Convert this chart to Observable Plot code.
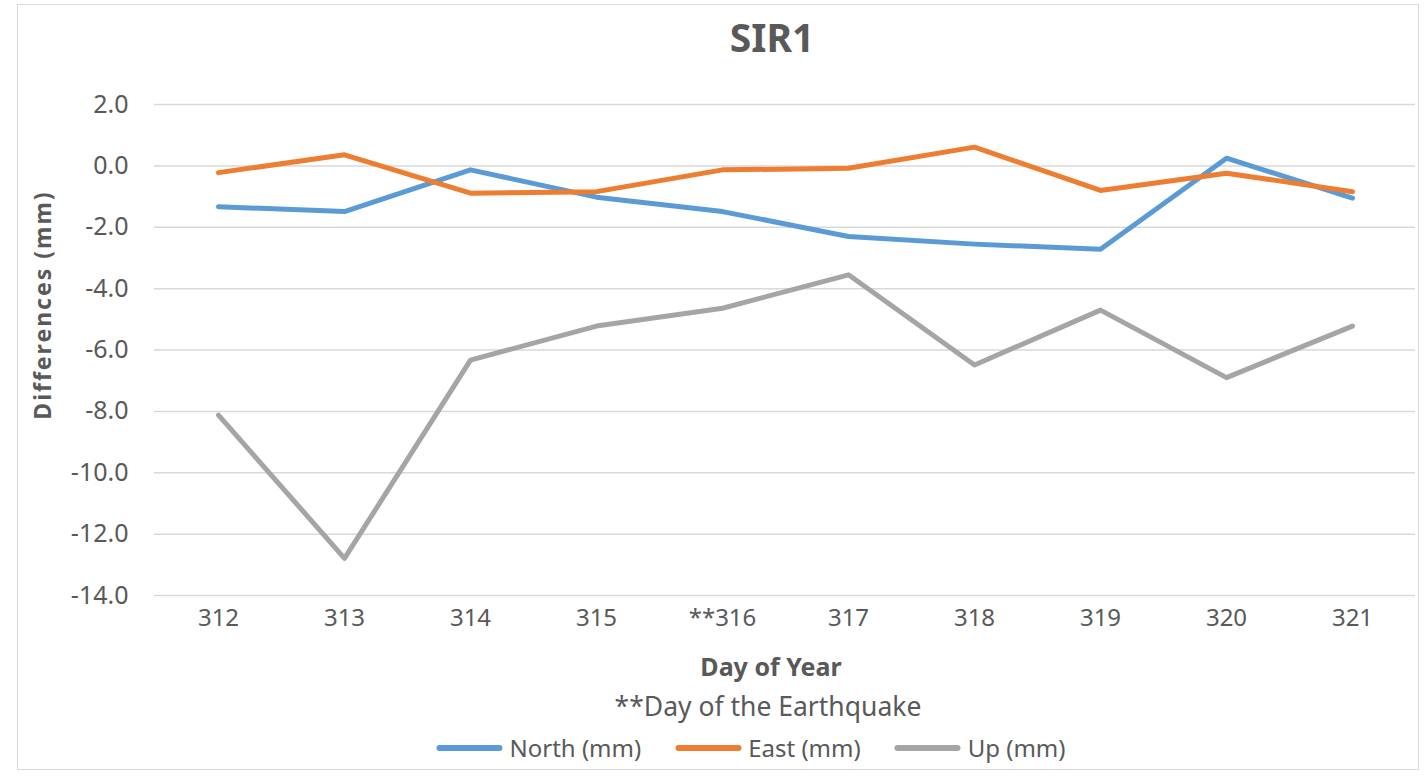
<!DOCTYPE html>
<html>
<head>
<meta charset="utf-8">
<script src="https://cdn.jsdelivr.net/npm/d3@7"></script>
<script src="https://cdn.jsdelivr.net/npm/@observablehq/plot@0.6"></script>
<style>
  body { margin: 0; background: #fff; font-family: "Noto Sans", sans-serif; }
  #wrap { position: relative; width: 1425px; height: 777px; overflow: hidden; }
  #frame { position: absolute; left: 17px; top: 4px; width: 1402px; height: 766px; border: 1.5px solid #d9d9d9; box-sizing: border-box; }
  #chart { position: absolute; left: 0; top: 0; }
  .t { position: absolute; transform: translate(-50%, -50%); white-space: nowrap; color: #595959; line-height: 1; }
  #title { left: 772px; top: 36px; font-size: 39px; font-weight: bold; }
  #ytitle { left: 42px; top: 305px; font-size: 23px; font-weight: bold; letter-spacing: 2px; transform: translate(-50%, -50%) rotate(-90deg); }
  #xtitle { left: 771px; top: 666px; font-size: 25px; font-weight: bold; }
  #caption { left: 768px; top: 706px; font-size: 26.5px; }
  #legend { left: 751px; top: 748px; font-size: 24px; display: flex; align-items: center; gap: 34px; }
  .item { display: flex; align-items: center; gap: 7px; }
  .sw { width: 66px; height: 6px; border-radius: 3px; }
</style>
</head>
<body>
<div id="wrap">
  <div id="frame"></div>
  <div id="chart"></div>
  <div class="t" id="title">SIR1</div>
  <div class="t" id="ytitle">Differences (mm)</div>
  <div class="t" id="xtitle">Day of Year</div>
  <div class="t" id="caption">**Day of the Earthquake</div>
  <div class="t" id="legend"></div>
</div>
<script>
const days = ["312", "313", "314", "315", "**316", "317", "318", "319", "320", "321"];
const north = [-1.33, -1.49, -0.13, -1.02, -1.49, -2.3, -2.55, -2.72, 0.25, -1.05];
const east = [-0.22, 0.36, -0.89, -0.84, -0.13, -0.08, 0.61, -0.8, -0.24, -0.84];
const up = [-8.12, -12.79, -6.33, -5.22, -4.64, -3.55, -6.49, -4.7, -6.9, -5.22];
const seriesNames = ["North (mm)", "East (mm)", "Up (mm)"];
const seriesColors = ["#5B9BD5", "#ED7D31", "#A5A5A5"];
const yTicks = [-14, -12, -10, -8, -6, -4, -2, 0, 2];

const seriesValues = [north, east, up];
const rows = [];
seriesValues.forEach((vals, s) => {
  vals.forEach((v, i) => rows.push({day: days[i], value: v, series: seriesNames[s]}));
});

const chart = Plot.plot({
  width: 1425,
  height: 650,
  marginLeft: 154,
  marginRight: 10,
  marginTop: 104,
  marginBottom: 55,
  style: {fontFamily: "Noto Sans, sans-serif", background: "transparent"},
  x: {type: "point", domain: days, padding: 0.5},
  y: {domain: [-14, 2]},
  color: {domain: seriesNames, range: seriesColors},
  marks: [
    Plot.gridY(yTicks, {stroke: "#d9d9d9", strokeOpacity: 1, strokeWidth: 1.5}),
    Plot.axisY(yTicks, {tickSize: 0, tickPadding: 26, tickFormat: d => d.toFixed(1), fontSize: 25, fill: "#595959", label: null}),
    Plot.axisX({tickSize: 0, tickPadding: 13, fontSize: 24, fill: "#595959", label: null}),
    Plot.line(rows, {x: "day", y: "value", z: "series", stroke: "series", strokeWidth: 5, strokeLinecap: "round", strokeLinejoin: "round"})
  ]
});
document.getElementById("chart").appendChild(chart);

const legend = document.getElementById("legend");
seriesNames.forEach((n, i) => {
  const item = document.createElement("div");
  item.className = "item";
  const sw = document.createElement("div");
  sw.className = "sw";
  sw.style.background = seriesColors[i];
  const lab = document.createElement("span");
  lab.textContent = n;
  item.appendChild(sw);
  item.appendChild(lab);
  legend.appendChild(item);
});
</script>
</body>
</html>
